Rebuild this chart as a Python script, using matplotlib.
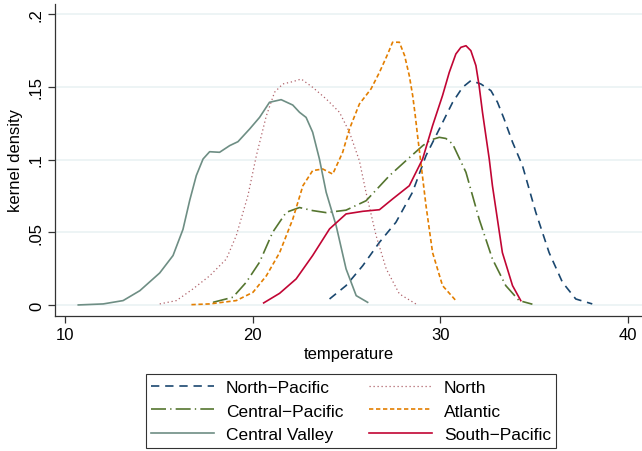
import matplotlib
matplotlib.use("Agg")
import matplotlib.pyplot as plt

plt.rcParams['font.family'] = ['Liberation Sans', 'DejaVu Sans']

# --- kernel density curves (temperature, density) ---
cv_x = [10.71, 12.04, 13.1, 13.99, 15.05, 15.76, 16.29, 16.65, 17.0, 17.36, 17.71, 18.24,
        18.78, 19.22, 19.84, 20.37, 20.9, 21.52, 22.14, 22.5, 22.85, 23.2, 23.56, 23.92,
        24.45, 24.98, 25.52, 26.13]
cv_y = [0.0, 0.0007, 0.003, 0.0098, 0.022, 0.034, 0.052, 0.072, 0.089, 0.1004, 0.1054, 0.105,
        0.1096, 0.1123, 0.121, 0.129, 0.1394, 0.1412, 0.1375, 0.1325, 0.129, 0.1188, 0.1004,
        0.0775, 0.0546, 0.0248, 0.0064, 0.0018]

north_x = [15.05, 15.94, 16.82, 17.71, 18.6, 19.13, 19.75, 20.2, 20.73, 21.17, 21.61, 22.14,
           22.59, 23.2, 23.92, 24.63, 25.16, 25.69, 26.05, 26.58, 27.12, 27.82, 28.7]
north_y = [0.0007, 0.003, 0.011, 0.020, 0.0316, 0.0477, 0.0752, 0.1027, 0.130, 0.1463, 0.152,
           0.1536, 0.1554, 0.1497, 0.1417, 0.1325, 0.1188, 0.0992, 0.077, 0.0477, 0.0248,
           0.0076, 0.0007]

cp_x = [17.89, 18.95, 19.66, 20.37, 21.07, 21.79, 22.5, 23.2, 23.92, 24.98, 25.69, 26.05,
        27.29, 28.17, 29.07, 29.5, 29.95, 30.3, 30.66, 31.37, 32.07, 32.78, 33.49, 34.2, 34.91]
cp_y = [0.0018, 0.0053, 0.0156, 0.0294, 0.05, 0.0637, 0.067, 0.0649, 0.0635, 0.0652, 0.0695,
        0.0717, 0.0889, 0.0992, 0.1096, 0.1135, 0.1153, 0.1145, 0.1107, 0.0912, 0.0591, 0.0316,
        0.0133, 0.003, 0.0005]

atl_x = [16.74, 17.71, 19.13, 20.02, 20.73, 21.44, 22.14, 22.68, 23.2, 23.74, 24.27, 24.8,
         25.16, 25.69, 26.31, 26.76, 27.2, 27.46, 27.82, 28.1, 28.35, 28.53, 28.67, 28.79,
         28.92, 29.24, 29.59, 30.12, 30.83]
atl_y = [0.0002, 0.0007, 0.003, 0.0087, 0.020, 0.036, 0.059, 0.082, 0.0924, 0.0935, 0.090,
         0.105, 0.121, 0.1382, 0.1486, 0.160, 0.1726, 0.1807, 0.1807, 0.1715, 0.1577, 0.144,
         0.130, 0.1164, 0.1027, 0.0683, 0.036, 0.0133, 0.003]

sp_x = [20.59, 21.44, 22.32, 23.2, 24.1, 24.98, 25.87, 26.76, 27.46, 28.35, 29.06, 29.59,
        30.12, 30.48, 30.83, 31.1, 31.37, 31.63, 31.9, 32.07, 32.25, 32.43, 32.61, 32.78,
        33.31, 33.85, 34.29]
sp_y = [0.0014, 0.008, 0.0179, 0.034, 0.0523, 0.0626, 0.0644, 0.0655, 0.0729, 0.082, 0.1004,
        0.1233, 0.144, 0.160, 0.1726, 0.1772, 0.1783, 0.1749, 0.1646, 0.1508, 0.1325, 0.1164,
        0.1004, 0.082, 0.036, 0.0133, 0.003]

np_x = [24.1, 24.98, 25.87, 26.76, 27.64, 28.52, 29.24, 29.95, 30.66, 31.19, 31.63, 32.16,
        32.7, 33.05, 33.4, 33.85, 34.38, 35.09, 35.8, 36.51, 37.22, 38.1]
np_y = [0.0041, 0.0133, 0.027, 0.0431, 0.0569, 0.0775, 0.1027, 0.121, 0.1394, 0.1497, 0.1543,
        0.152, 0.1474, 0.1394, 0.128, 0.112, 0.0958, 0.0637, 0.036, 0.0156, 0.0041, 0.0007]

x_ticks = [10, 20, 30, 40]
y_ticks = [0, 0.05, 0.1, 0.15, 0.2]
y_ticklabels = ["0", ".05", ".1", ".15", ".2"]

fig = plt.figure(figsize=(6.42, 4.52), dpi=100)
ax = fig.add_axes([55 / 642, 1 - 316.7 / 452, 587 / 642, 311.7 / 452])

# gridlines like Stata s2color
for yt in y_ticks:
    ax.axhline(yt, color="#eaf2f3", lw=1.2, zorder=0)

lw = 1.2
l_np, = ax.plot(np_x, np_y, color="#1a476f", lw=lw, linestyle=(0, (5, 3.5)))
l_no, = ax.plot(north_x, north_y, color="#b0636b", lw=0.9, linestyle=(0, (1, 2.2)))
l_cp, = ax.plot(cp_x, cp_y, color="#55752f", lw=lw, linestyle=(0, (9, 2.5, 0.8, 2.5)))
l_at, = ax.plot(atl_x, atl_y, color="#e37e00", lw=lw, linestyle=(0, (2.6, 1.6)))
l_cv, = ax.plot(cv_x, cv_y, color="#6e8e84", lw=lw)
l_sp, = ax.plot(sp_x, sp_y, color="#c10534", lw=lw)

ax.set_xlim(9.47, 40.75)
ax.set_ylim(-0.0074, 0.207)
ax.set_xticks(x_ticks)
ax.set_yticks(y_ticks)
ax.set_yticklabels(y_ticklabels, rotation=90, va="center")
ax.tick_params(axis="both", labelsize=12, length=5, width=0.9, color="#333333", pad=3)
ax.set_xlabel("temperature", fontsize=12, labelpad=3)
ax.set_ylabel("kernel density", fontsize=12, labelpad=4)

for s in ["top", "right"]:
    ax.spines[s].set_visible(False)
for s in ["left", "bottom"]:
    ax.spines[s].set_color("#333333")
    ax.spines[s].set_linewidth(0.9)

handles = [l_np, l_no, l_cp, l_at, l_cv, l_sp]
labels = ["North\u2212Pacific", "North", "Central\u2212Pacific", "Atlantic",
          "Central Valley", "South\u2212Pacific"]
# matplotlib fills columns first, so reorder to get row-wise layout
order = [0, 2, 4, 1, 3, 5]
leg = fig.legend([handles[i] for i in order], [labels[i] for i in order],
                 ncol=2, loc="center", bbox_to_anchor=(351 / 642, 1 - 412 / 452),
                 fontsize=12.5, frameon=True, fancybox=False, edgecolor="black",
                 handlelength=3.6, handletextpad=0.7, columnspacing=1.5,
                 labelspacing=0.5, borderpad=0.3, borderaxespad=0)
leg.get_frame().set_linewidth(0.8)

fig.savefig("out.png", dpi=100)
